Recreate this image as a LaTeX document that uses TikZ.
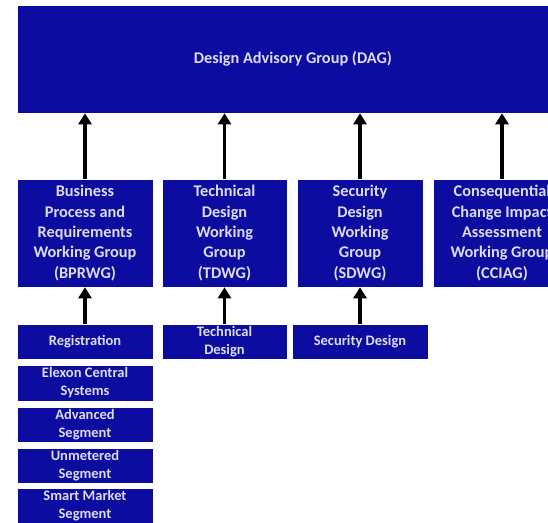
\documentclass[tikz,border=0pt]{standalone}
\usepackage{fontspec}
\setmainfont{Carlito}
\usetikzlibrary{arrows.meta}
\definecolor{boxblue}{HTML}{0C0CA0}
\definecolor{boxtext}{HTML}{DCDCFA}
\tikzset{
  wg/.style={draw=white, line width=0.6pt, fill=boxblue, text=boxtext, align=center, inner sep=0pt,
    font=\fontsize{16.3}{20.3}\selectfont\bfseries},
  sub/.style={draw=white, line width=0.6pt, fill=boxblue, text=boxtext, align=center, inner sep=0pt,
    font=\fontsize{14.5}{18}\selectfont\bfseries},
  uparrow/.style={line width=3.6pt, draw=black, -{Triangle[width=13pt,length=11pt]}, shorten >=0pt}
}
\begin{document}
\begin{tikzpicture}[x=1pt,y=1pt]
\useasboundingbox (0,0) rectangle (548,522);
\fill[white] (0,0) rectangle (548,522);
\clip (0,0) rectangle (548,522);
% DAG
\node[wg, minimum width=552pt, minimum height=108pt] (dag) at (293,463) {Design Advisory Group (DAG)};
% working groups
\node[wg, minimum width=136pt, minimum height=108pt] (bprwg) at (85,289) {Business\\Process and\\Requirements\\Working Group\\(BPRWG)};
\node[wg, minimum width=125pt, minimum height=108pt] (tdwg) at (224.5,289) {Technical\\Design\\Working\\Group\\(TDWG)};
\node[wg, minimum width=126pt, minimum height=108pt] (sdwg) at (360,289) {Security\\Design\\Working\\Group\\(SDWG)};
\node[wg, minimum width=138pt, minimum height=108pt] (cciag) at (502,289) {Consequential\\Change Impact\\Assessment\\Working Group\\(CCIAG)};
% sub boxes
\node[sub, minimum width=136pt, minimum height=35pt] (reg) at (85,180.5) {Registration};
\node[sub, minimum width=125pt, minimum height=35pt] (tdes) at (224.5,180.5) {Technical\\Design};
\node[sub, minimum width=136pt, minimum height=35pt] (sdes) at (360,180.5) {Security Design};
\node[sub, minimum width=136pt, minimum height=36pt] (elex) at (85,139) {Elexon Central\\Systems};
\node[sub, minimum width=136pt, minimum height=35pt] (adv) at (85,97.5) {Advanced\\Segment};
\node[sub, minimum width=136pt, minimum height=35pt] (unm) at (85,56.5) {Unmetered\\Segment};
\node[sub, minimum width=136pt, minimum height=36pt] (smart) at (85,16) {Smart Market\\Segment};
% arrows
\draw[uparrow] (bprwg.north) -- (bprwg.north |- dag.south);
\draw[uparrow] (tdwg.north) -- (tdwg.north |- dag.south);
\draw[uparrow] (sdwg.north) -- (sdwg.north |- dag.south);
\draw[uparrow] (cciag.north) -- (cciag.north |- dag.south);
\draw[uparrow] (reg.north) -- (bprwg.south);
\draw[uparrow] (tdes.north) -- (tdwg.south);
\draw[uparrow] (sdes.north) -- (sdwg.south);
\end{tikzpicture}
\end{document}
